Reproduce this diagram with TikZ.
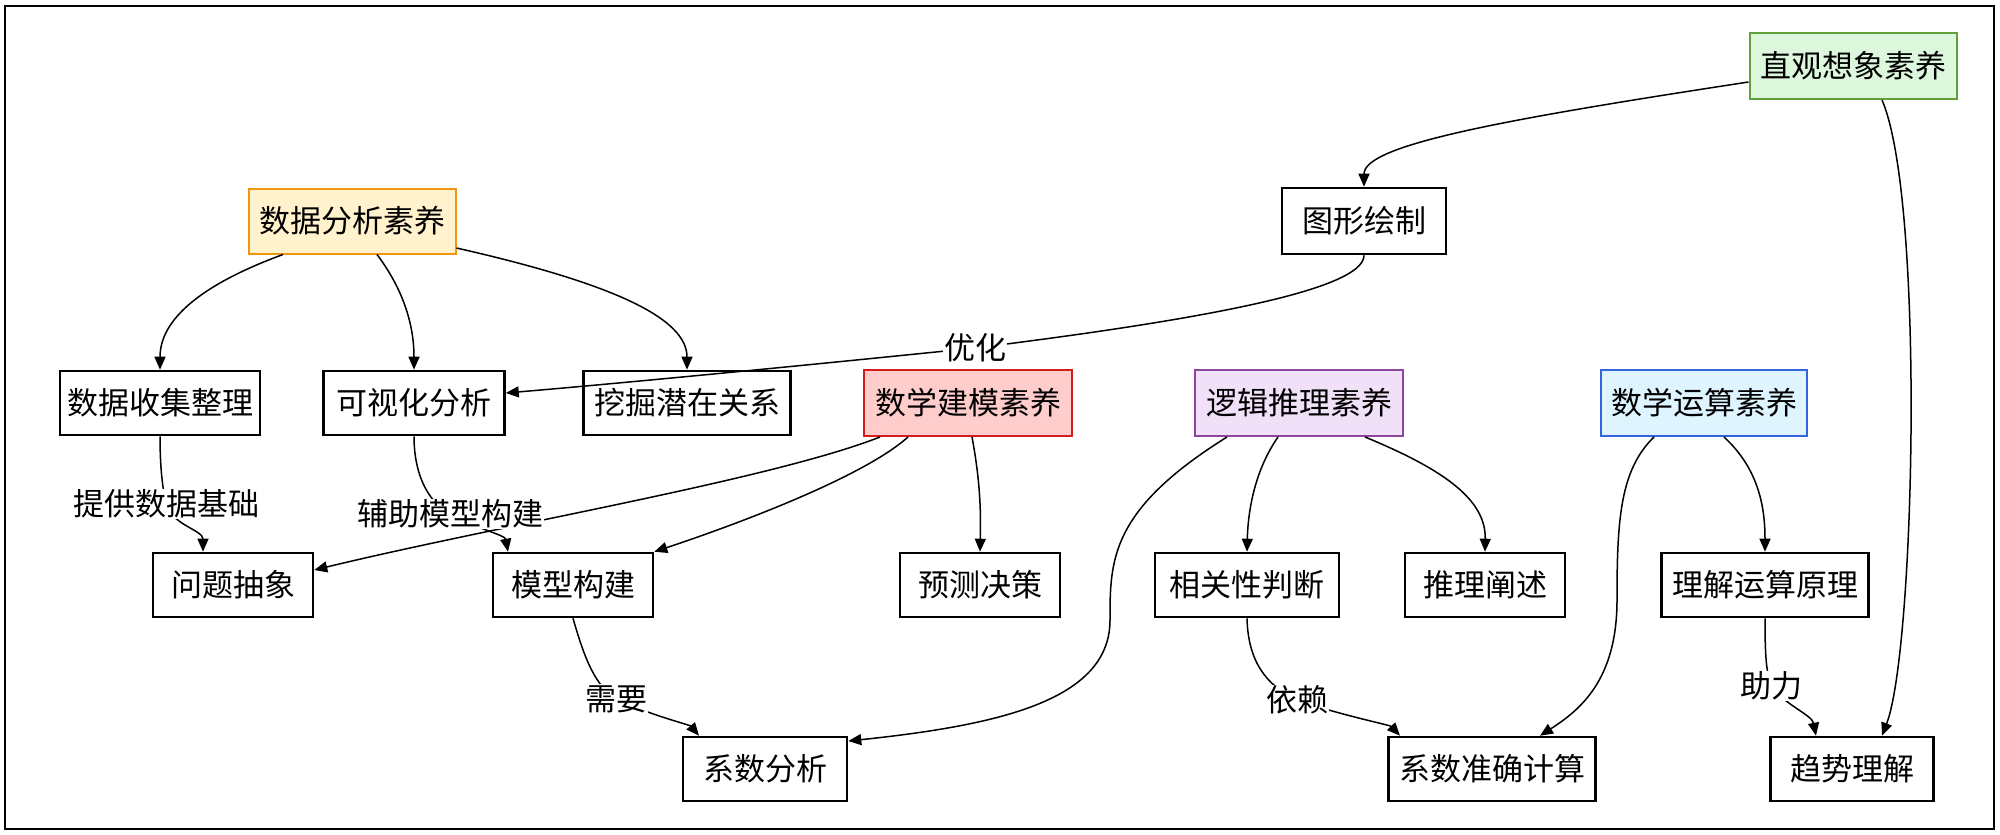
\documentclass[tikz,border=0pt]{standalone}
\usepackage{fontspec}
\setmainfont{Noto Sans CJK SC}
\usetikzlibrary{arrows.meta}
\definecolor{gfill}{RGB}{221,247,221}\definecolor{gdraw}{RGB}{95,160,60}
\definecolor{ofill}{RGB}{255,242,204}\definecolor{odraw}{RGB}{240,150,20}
\definecolor{rfill}{RGB}{255,204,204}\definecolor{rdraw}{RGB}{210,30,30}
\definecolor{pfill}{RGB}{240,225,248}\definecolor{pdraw}{RGB}{140,70,160}
\definecolor{bfill}{RGB}{222,244,255}\definecolor{bdraw}{RGB}{50,100,220}
\begin{document}
\begin{tikzpicture}[x=1pt,y=-1pt,
  every node/.style={font=\fontsize{31}{36}\selectfont, inner sep=0pt},
  plainbox/.style={draw=black, line width=2.6pt, fill=white, minimum height=64pt},
  gbox/.style={draw=gdraw, line width=2pt, fill=gfill, minimum height=66pt, minimum width=207pt},
  obox/.style={draw=odraw, line width=2pt, fill=ofill, minimum height=65pt, minimum width=207pt},
  rbox/.style={draw=rdraw, line width=2pt, fill=rfill, minimum height=66pt, minimum width=208pt},
  pbox/.style={draw=pdraw, line width=2pt, fill=pfill, minimum height=66pt, minimum width=208pt},
  bbox/.style={draw=bdraw, line width=2pt, fill=bfill, minimum height=66pt, minimum width=206pt},
  lbl/.style={fill=white, inner sep=1pt},
  conn/.style={draw=black, line width=1.5pt, -{Triangle[length=13pt,width=11pt]}}]
\useasboundingbox (0,0) rectangle (2000,835);
\draw[line width=2.5pt] (5,6) rectangle (1994,829);

\node[gbox] (zg) at (1853,66) {直观想象素养};
\node[obox] (sj) at (352,221) {数据分析素养};
\node[rbox] (jm) at (968,403) {数学建模素养};
\node[pbox] (lj) at (1299,403) {逻辑推理素养};
\node[bbox] (ys) at (1704,403) {数学运算素养};
\node[plainbox, minimum width=164pt, minimum height=66pt] (tx) at (1364,221) {图形绘制};
\node[plainbox, minimum width=200pt] (sjsj) at (160,403) {数据收集整理};
\node[plainbox, minimum width=181pt] (ksh) at (414,403) {可视化分析};
\node[plainbox, minimum width=207pt] (wj) at (687,403) {挖掘潜在关系};
\node[plainbox, minimum width=160pt] (wt) at (233,585) {问题抽象};
\node[plainbox, minimum width=160pt] (mx) at (573,585) {模型构建};
\node[plainbox, minimum width=160pt] (yc) at (980,585) {预测决策};
\node[plainbox, minimum width=184pt] (xg) at (1247,585) {相关性判断};
\node[plainbox, minimum width=160pt] (tl) at (1485,585) {推理阐述};
\node[plainbox, minimum width=207pt] (lyl) at (1765,585) {理解运算原理};
\node[plainbox, minimum width=164pt] (xsfx) at (765,769) {系数分析};
\node[plainbox, minimum width=207pt] (xszq) at (1492,769) {系数准确计算};
\node[plainbox, minimum width=163pt] (qs) at (1852,769) {趋势理解};

% label anchors
\coordinate (l1) at (975,348);
\coordinate (l2) at (166,504);
\coordinate (l3) at (450,514);
\coordinate (l4) at (616,699);
\coordinate (l5) at (1297,700);
\coordinate (l6) at (1771,686);

% edges
\draw[conn] (zg.west |- 0,82) .. controls (1500,120) and (1364,145) .. (tx.north);
\draw[conn] (zg.south -| 1882,0) .. controls (1925,200) and (1915,650) .. (qs.north -| 1882,0);
\draw[conn] (sj.south -| 283,0) .. controls (200,285) and (160,320) .. (sjsj.north);
\draw[conn] (sj.south -| 377,0) .. controls (400,285) and (414,320) .. (ksh.north);
\draw[conn] (sj.east |- 0,248) .. controls (620,285) and (687,320) .. (wj.north);
\draw[conn] (tx.south) .. controls (1364,290) and (1200,320) .. (l1) .. controls (760,370) and (600,385) .. (ksh.east |- 0,393);
\draw[conn] (sjsj.south) .. controls (160,470) and (163,490) .. (l2) .. controls (172,525) and (203,530) .. (wt.north -| 203,0);
\draw[conn] (ksh.south) .. controls (414,470) and (425,500) .. (l3) .. controls (480,530) and (505,535) .. (mx.north -| 508,0);
\draw[conn] (jm.south -| 880,0) .. controls (770,480) and (500,525) .. (wt.east |- 0,570);
\draw[conn] (jm.south -| 908,0) .. controls (860,480) and (720,530) .. (mx.north east);
\draw[conn] (jm.south -| 972,0) .. controls (980,480) and (981,510) .. (yc.north);
\draw[conn] (mx.south) .. controls (585,660) and (595,685) .. (l4) .. controls (650,715) and (690,725) .. (xsfx.north west -| 699,0);
\draw[conn] (lj.south -| 1227,0) .. controls (1110,510) and (1110,560) .. (1110,620) .. controls (1110,700) and (1000,725) .. (xsfx.east |- 0,741);
\draw[conn] (lj.south -| 1278,0) .. controls (1255,470) and (1248,510) .. (xg.north);
\draw[conn] (lj.south -| 1365,0) .. controls (1445,470) and (1486,500) .. (tl.north);
\draw[conn] (xg.south) .. controls (1248,660) and (1265,685) .. (l5) .. controls (1340,715) and (1390,725) .. (xszq.north -| 1400,0);
\draw[conn] (ys.south -| 1654,0) .. controls (1620,470) and (1617,520) .. (1617,600) .. controls (1617,680) and (1580,710) .. (xszq.north -| 1540,0);
\draw[conn] (ys.south -| 1724,0) .. controls (1760,470) and (1765,510) .. (lyl.north);
\draw[conn] (lyl.south) .. controls (1765,655) and (1766,670) .. (l6) .. controls (1785,705) and (1812,715) .. (qs.north -| 1816,0);

% labels
\node[lbl] at (l1) {优化};
\node[lbl] at (l2) {提供数据基础};
\node[lbl] at (l3) {辅助模型构建};
\node[lbl] at (l4) {需要};
\node[lbl] at (l5) {依赖};
\node[lbl] at (l6) {助力};
\end{tikzpicture}
\end{document}
